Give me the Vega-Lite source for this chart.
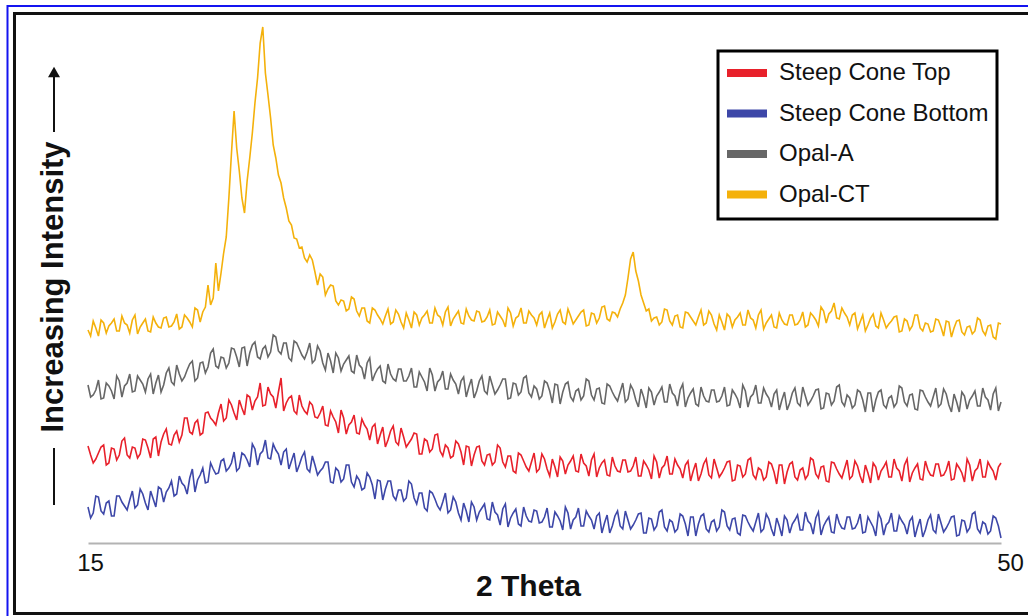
{
 "$schema": "https://vega.github.io/schema/vega-lite/v6.json",
 "width": 913, "height": 523,
 "autosize": "none",
 "padding": {"left": 88, "top": 20, "right": 27, "bottom": 73},
 "background": "white",
 "config": {"view": {"stroke": null}, "font": "Liberation Sans"},
 "layer": [
  {
   "data": {"values": [
{"t":15.0,"opalA":158,"top":97,"bottom":36,"opalCT":213},{"t":15.1,"opalA":146,"top":88,"bottom":25,"opalCT":207},
{"t":15.2,"opalA":148,"top":80,"bottom":30,"opalCT":222},{"t":15.3,"opalA":153,"top":84,"bottom":47,"opalCT":215},
{"t":15.4,"opalA":163,"top":90,"bottom":46,"opalCT":207},{"t":15.5,"opalA":144,"top":96,"bottom":32,"opalCT":223},
{"t":15.6,"opalA":145,"top":98,"bottom":29,"opalCT":220},{"t":15.7,"opalA":160,"top":78,"bottom":40,"opalCT":210},
{"t":15.8,"opalA":157,"top":80,"bottom":42,"opalCT":217},{"t":15.9,"opalA":152,"top":95,"bottom":27,"opalCT":220},
{"t":16.0,"opalA":144,"top":94,"bottom":27,"opalCT":224},{"t":16.1,"opalA":167,"top":83,"bottom":47,"opalCT":212},
{"t":16.2,"opalA":162,"top":88,"bottom":47,"opalCT":212},{"t":16.3,"opalA":146,"top":102,"bottom":41,"opalCT":227},
{"t":16.4,"opalA":157,"top":105,"bottom":37,"opalCT":220},{"t":16.5,"opalA":160,"top":88,"bottom":33,"opalCT":218},
{"t":16.6,"opalA":169,"top":85,"bottom":43,"opalCT":210},{"t":16.7,"opalA":151,"top":96,"bottom":52,"opalCT":223},
{"t":16.8,"opalA":152,"top":95,"bottom":35,"opalCT":228},{"t":16.9,"opalA":167,"top":85,"bottom":38,"opalCT":209},
{"t":17.0,"opalA":163,"top":89,"bottom":54,"opalCT":216},{"t":17.1,"opalA":159,"top":104,"bottom":49,"opalCT":220},
{"t":17.2,"opalA":151,"top":103,"bottom":40,"opalCT":224},{"t":17.3,"opalA":164,"top":95,"bottom":33,"opalCT":212},
{"t":17.4,"opalA":169,"top":85,"bottom":52,"opalCT":211},{"t":17.5,"opalA":149,"top":104,"bottom":44,"opalCT":226},
{"t":17.6,"opalA":160,"top":106,"bottom":36,"opalCT":220},{"t":17.7,"opalA":168,"top":87,"bottom":56,"opalCT":216},
{"t":17.8,"opalA":151,"top":101,"bottom":54,"opalCT":215},{"t":17.9,"opalA":158,"top":109,"bottom":41,"opalCT":225},
{"t":18.0,"opalA":170,"top":114,"bottom":51,"opalCT":226},{"t":18.1,"opalA":175,"top":99,"bottom":55,"opalCT":216},
{"t":18.2,"opalA":161,"top":98,"bottom":62,"opalCT":217},{"t":18.3,"opalA":158,"top":108,"bottom":47,"opalCT":221},
{"t":18.4,"opalA":178,"top":112,"bottom":49,"opalCT":229},{"t":18.5,"opalA":169,"top":101,"bottom":67,"opalCT":214},
{"t":18.6,"opalA":162,"top":108,"bottom":60,"opalCT":216},{"t":18.7,"opalA":166,"top":125,"bottom":57,"opalCT":228},
{"t":18.8,"opalA":173,"top":125,"bottom":49,"opalCT":225},{"t":18.9,"opalA":179,"top":111,"bottom":65,"opalCT":221},
{"t":19.0,"opalA":182,"top":109,"bottom":74,"opalCT":216},{"t":19.1,"opalA":162,"top":120,"bottom":51,"opalCT":235},
{"t":19.2,"opalA":165,"top":123,"bottom":63,"opalCT":233},{"t":19.3,"opalA":180,"top":108,"bottom":68,"opalCT":221},
{"t":19.4,"opalA":181,"top":110,"bottom":75,"opalCT":231},{"t":19.5,"opalA":170,"top":130,"bottom":60,"opalCT":236},
{"t":19.6,"opalA":176,"top":131,"bottom":61,"opalCT":258},{"t":19.7,"opalA":190,"top":125,"bottom":80,"opalCT":238},
{"t":19.8,"opalA":194,"top":122,"bottom":74,"opalCT":245},{"t":19.9,"opalA":177,"top":118,"bottom":69,"opalCT":280},
{"t":20.0,"opalA":175,"top":130,"bottom":70,"opalCT":252},{"t":20.1,"opalA":186,"top":139,"bottom":82,"opalCT":270},
{"t":20.2,"opalA":185,"top":122,"bottom":84,"opalCT":290},{"t":20.3,"opalA":175,"top":125,"bottom":72,"opalCT":306},
{"t":20.4,"opalA":180,"top":143,"bottom":75,"opalCT":345},{"t":20.5,"opalA":195,"top":138,"bottom":80,"opalCT":390},
{"t":20.6,"opalA":194,"top":130,"bottom":91,"opalCT":432},{"t":20.7,"opalA":186,"top":123,"bottom":72,"opalCT":395},
{"t":20.8,"opalA":176,"top":143,"bottom":75,"opalCT":372},{"t":20.9,"opalA":195,"top":135,"bottom":90,"opalCT":345},
{"t":21.0,"opalA":196,"top":128,"bottom":88,"opalCT":330},{"t":21.1,"opalA":177,"top":148,"bottom":83,"opalCT":362},
{"t":21.2,"opalA":190,"top":146,"bottom":76,"opalCT":385},{"t":21.3,"opalA":198,"top":133,"bottom":99,"opalCT":410},
{"t":21.4,"opalA":201,"top":142,"bottom":94,"opalCT":440},{"t":21.5,"opalA":186,"top":146,"bottom":78,"opalCT":465},
{"t":21.6,"opalA":184,"top":160,"bottom":89,"opalCT":500},{"t":21.7,"opalA":194,"top":137,"bottom":92,"opalCT":516},
{"t":21.8,"opalA":197,"top":138,"bottom":103,"opalCT":470},{"t":21.9,"opalA":186,"top":156,"bottom":85,"opalCT":448},
{"t":22.0,"opalA":191,"top":149,"bottom":84,"opalCT":425},{"t":22.1,"opalA":208,"top":146,"bottom":99,"opalCT":398},
{"t":22.2,"opalA":206,"top":135,"bottom":93,"opalCT":385},{"t":22.3,"opalA":192,"top":151,"bottom":89,"opalCT":368},
{"t":22.4,"opalA":189,"top":165,"bottom":78,"opalCT":360},{"t":22.5,"opalA":200,"top":132,"bottom":91,"opalCT":345},
{"t":22.6,"opalA":200,"top":140,"bottom":94,"opalCT":335},{"t":22.7,"opalA":185,"top":145,"bottom":74,"opalCT":322},
{"t":22.8,"opalA":182,"top":147,"bottom":82,"opalCT":318},{"t":22.9,"opalA":202,"top":132,"bottom":90,"opalCT":305},
{"t":23.0,"opalA":200,"top":129,"bottom":71,"opalCT":304},{"t":23.1,"opalA":194,"top":148,"bottom":78,"opalCT":295},
{"t":23.2,"opalA":188,"top":137,"bottom":86,"opalCT":296},{"t":23.3,"opalA":184,"top":132,"bottom":91,"opalCT":285},
{"t":23.4,"opalA":191,"top":129,"bottom":74,"opalCT":281},{"t":23.5,"opalA":200,"top":141,"bottom":71,"opalCT":288},
{"t":23.6,"opalA":180,"top":138,"bottom":87,"opalCT":283},{"t":23.7,"opalA":183,"top":126,"bottom":78,"opalCT":271},
{"t":23.8,"opalA":197,"top":125,"bottom":68,"opalCT":258},{"t":23.9,"opalA":192,"top":130,"bottom":72,"opalCT":269},
{"t":24.0,"opalA":180,"top":137,"bottom":75,"opalCT":266},{"t":24.1,"opalA":173,"top":118,"bottom":81,"opalCT":248},
{"t":24.2,"opalA":190,"top":117,"bottom":81,"opalCT":254},{"t":24.3,"opalA":182,"top":132,"bottom":61,"opalCT":258},
{"t":24.4,"opalA":170,"top":126,"bottom":60,"opalCT":257},{"t":24.5,"opalA":190,"top":121,"bottom":75,"opalCT":242},
{"t":24.6,"opalA":185,"top":110,"bottom":72,"opalCT":238},{"t":24.7,"opalA":172,"top":133,"bottom":61,"opalCT":243},
{"t":24.8,"opalA":179,"top":125,"bottom":64,"opalCT":242},{"t":24.9,"opalA":183,"top":109,"bottom":78,"opalCT":232},
{"t":25.0,"opalA":187,"top":118,"bottom":78,"opalCT":234},{"t":25.1,"opalA":172,"top":121,"bottom":61,"opalCT":246},
{"t":25.2,"opalA":170,"top":128,"bottom":56,"opalCT":244},{"t":25.3,"opalA":188,"top":110,"bottom":67,"opalCT":232},
{"t":25.4,"opalA":178,"top":109,"bottom":63,"opalCT":227},{"t":25.5,"opalA":175,"top":124,"bottom":53,"opalCT":235},
{"t":25.6,"opalA":164,"top":118,"bottom":55,"opalCT":235},{"t":25.7,"opalA":180,"top":114,"bottom":70,"opalCT":222},
{"t":25.8,"opalA":185,"top":103,"bottom":66,"opalCT":220},{"t":25.9,"opalA":162,"top":116,"bottom":58,"opalCT":235},
{"t":26.0,"opalA":169,"top":119,"bottom":44,"opalCT":233},{"t":26.1,"opalA":174,"top":99,"bottom":63,"opalCT":228},
{"t":26.2,"opalA":177,"top":108,"bottom":62,"opalCT":224},{"t":26.3,"opalA":162,"top":116,"bottom":43,"opalCT":219},
{"t":26.4,"opalA":160,"top":96,"bottom":54,"opalCT":227},{"t":26.5,"opalA":179,"top":103,"bottom":62,"opalCT":234},
{"t":26.6,"opalA":169,"top":112,"bottom":62,"opalCT":219},{"t":26.7,"opalA":164,"top":117,"bottom":47,"opalCT":221},
{"t":26.8,"opalA":162,"top":101,"bottom":43,"opalCT":233},{"t":26.9,"opalA":174,"top":98,"bottom":53,"opalCT":229},
{"t":27.0,"opalA":174,"top":115,"bottom":53,"opalCT":221},{"t":27.1,"opalA":162,"top":106,"bottom":42,"opalCT":215},
{"t":27.2,"opalA":162,"top":96,"bottom":45,"opalCT":230},{"t":27.3,"opalA":167,"top":100,"bottom":62,"opalCT":223},
{"t":27.4,"opalA":175,"top":104,"bottom":59,"opalCT":215},{"t":27.5,"opalA":156,"top":110,"bottom":45,"opalCT":231},
{"t":27.6,"opalA":156,"top":109,"bottom":39,"opalCT":228},{"t":27.7,"opalA":171,"top":89,"bottom":50,"opalCT":218},
{"t":27.8,"opalA":166,"top":89,"bottom":50,"opalCT":225},{"t":27.9,"opalA":161,"top":104,"bottom":35,"opalCT":228},
{"t":28.0,"opalA":152,"top":102,"bottom":32,"opalCT":232},{"t":28.1,"opalA":175,"top":91,"bottom":52,"opalCT":220},
{"t":28.2,"opalA":168,"top":94,"bottom":50,"opalCT":220},{"t":28.3,"opalA":152,"top":108,"bottom":44,"opalCT":235},
{"t":28.4,"opalA":161,"top":109,"bottom":37,"opalCT":228},{"t":28.5,"opalA":164,"top":92,"bottom":33,"opalCT":226},
{"t":28.6,"opalA":172,"top":87,"bottom":41,"opalCT":218},{"t":28.7,"opalA":154,"top":98,"bottom":50,"opalCT":231},
{"t":28.8,"opalA":154,"top":95,"bottom":30,"opalCT":236},{"t":28.9,"opalA":169,"top":85,"bottom":33,"opalCT":217},
{"t":29.0,"opalA":163,"top":87,"bottom":46,"opalCT":224},{"t":29.1,"opalA":159,"top":102,"bottom":41,"opalCT":228},
{"t":29.2,"opalA":149,"top":99,"bottom":30,"opalCT":232},{"t":29.3,"opalA":162,"top":91,"bottom":23,"opalCT":220},
{"t":29.4,"opalA":166,"top":78,"bottom":40,"opalCT":219},{"t":29.5,"opalA":146,"top":97,"bottom":32,"opalCT":234},
{"t":29.6,"opalA":156,"top":96,"bottom":21,"opalCT":227},{"t":29.7,"opalA":164,"top":77,"bottom":41,"opalCT":223},
{"t":29.8,"opalA":145,"top":88,"bottom":36,"opalCT":222},{"t":29.9,"opalA":152,"top":96,"bottom":23,"opalCT":232},
{"t":30.0,"opalA":162,"top":97,"bottom":31,"opalCT":231},{"t":30.1,"opalA":167,"top":82,"bottom":35,"opalCT":221},
{"t":30.2,"opalA":152,"top":78,"bottom":39,"opalCT":222},{"t":30.3,"opalA":149,"top":88,"bottom":24,"opalCT":226},
{"t":30.4,"opalA":167,"top":89,"bottom":23,"opalCT":233},{"t":30.5,"opalA":158,"top":78,"bottom":41,"opalCT":218},
{"t":30.6,"opalA":149,"top":81,"bottom":31,"opalCT":219},{"t":30.7,"opalA":153,"top":98,"bottom":28,"opalCT":231},
{"t":30.8,"opalA":158,"top":95,"bottom":18,"opalCT":227},{"t":30.9,"opalA":164,"top":81,"bottom":34,"opalCT":223},
{"t":31.0,"opalA":164,"top":76,"bottom":39,"opalCT":216},{"t":31.1,"opalA":144,"top":87,"bottom":16,"opalCT":235},
{"t":31.2,"opalA":145,"top":87,"bottom":25,"opalCT":230},{"t":31.3,"opalA":160,"top":72,"bottom":30,"opalCT":217},
{"t":31.4,"opalA":159,"top":70,"bottom":34,"opalCT":225},{"t":31.5,"opalA":148,"top":90,"bottom":19,"opalCT":227},
{"t":31.6,"opalA":151,"top":88,"bottom":17,"opalCT":235},{"t":31.7,"opalA":165,"top":82,"bottom":36,"opalCT":220},
{"t":31.8,"opalA":167,"top":76,"bottom":27,"opalCT":220},{"t":31.9,"opalA":150,"top":72,"bottom":22,"opalCT":232},
{"t":32.0,"opalA":146,"top":81,"bottom":21,"opalCT":228},{"t":32.1,"opalA":157,"top":90,"bottom":33,"opalCT":225},
{"t":32.2,"opalA":154,"top":71,"bottom":32,"opalCT":218},{"t":32.3,"opalA":144,"top":74,"bottom":20,"opalCT":228},
{"t":32.4,"opalA":147,"top":89,"bottom":21,"opalCT":231},{"t":32.5,"opalA":162,"top":84,"bottom":26,"opalCT":215},
{"t":32.6,"opalA":160,"top":74,"bottom":35,"opalCT":223},{"t":32.7,"opalA":152,"top":67,"bottom":16,"opalCT":230},
{"t":32.8,"opalA":140,"top":84,"bottom":16,"opalCT":215},{"t":32.9,"opalA":159,"top":76,"bottom":31,"opalCT":221},
{"t":33.0,"opalA":158,"top":66,"bottom":27,"opalCT":229},{"t":33.1,"opalA":139,"top":86,"bottom":22,"opalCT":233},
{"t":33.2,"opalA":151,"top":82,"bottom":13,"opalCT":221},{"t":33.3,"opalA":159,"top":69,"bottom":36,"opalCT":219},
{"t":33.4,"opalA":161,"top":78,"bottom":30,"opalCT":234},{"t":33.5,"opalA":146,"top":82,"bottom":14,"opalCT":227},
{"t":33.6,"opalA":142,"top":87,"bottom":23,"opalCT":219},{"t":33.7,"opalA":152,"top":72,"bottom":26,"opalCT":223},
{"t":33.8,"opalA":154,"top":71,"bottom":35,"opalCT":227},{"t":33.9,"opalA":143,"top":89,"bottom":17,"opalCT":231},
{"t":34.0,"opalA":147,"top":80,"bottom":17,"opalCT":233},{"t":34.1,"opalA":164,"top":77,"bottom":32,"opalCT":217},
{"t":34.2,"opalA":162,"top":67,"bottom":27,"opalCT":218},{"t":34.3,"opalA":148,"top":83,"bottom":23,"opalCT":230},
{"t":34.4,"opalA":143,"top":89,"bottom":14,"opalCT":229},{"t":34.5,"opalA":154,"top":66,"bottom":27,"opalCT":220},
{"t":34.6,"opalA":155,"top":75,"bottom":30,"opalCT":225},{"t":34.7,"opalA":140,"top":80,"bottom":10,"opalCT":236},
{"t":34.8,"opalA":139,"top":83,"bottom":20,"opalCT":237},{"t":34.9,"opalA":159,"top":68,"bottom":28,"opalCT":224},
{"t":35.0,"opalA":157,"top":67,"bottom":10,"opalCT":222},{"t":35.1,"opalA":151,"top":86,"bottom":17,"opalCT":231},
{"t":35.2,"opalA":146,"top":77,"bottom":27,"opalCT":230},{"t":35.3,"opalA":142,"top":72,"bottom":32,"opalCT":226},
{"t":35.4,"opalA":151,"top":71,"bottom":17,"opalCT":234},{"t":35.5,"opalA":160,"top":83,"bottom":14,"opalCT":240},
{"t":35.6,"opalA":141,"top":83,"bottom":32,"opalCT":248},{"t":35.7,"opalA":144,"top":71,"bottom":23,"opalCT":265},
{"t":35.8,"opalA":158,"top":72,"bottom":14,"opalCT":284},{"t":35.9,"opalA":153,"top":77,"bottom":18,"opalCT":291},
{"t":36.0,"opalA":143,"top":86,"bottom":23,"opalCT":272},{"t":36.1,"opalA":136,"top":67,"bottom":29,"opalCT":262},
{"t":36.2,"opalA":154,"top":67,"bottom":30,"opalCT":248},{"t":36.3,"opalA":146,"top":82,"bottom":10,"opalCT":240},
{"t":36.4,"opalA":135,"top":78,"bottom":10,"opalCT":232},{"t":36.5,"opalA":155,"top":73,"bottom":25,"opalCT":234},
{"t":36.6,"opalA":151,"top":64,"bottom":24,"opalCT":222},{"t":36.7,"opalA":138,"top":87,"bottom":13,"opalCT":225},
{"t":36.8,"opalA":147,"top":81,"bottom":17,"opalCT":226},{"t":36.9,"opalA":151,"top":65,"bottom":31,"opalCT":218},
{"t":37.0,"opalA":156,"top":75,"bottom":33,"opalCT":221},{"t":37.1,"opalA":141,"top":78,"bottom":16,"opalCT":234},
{"t":37.2,"opalA":141,"top":87,"bottom":12,"opalCT":233},{"t":37.3,"opalA":159,"top":69,"bottom":23,"opalCT":222},
{"t":37.4,"opalA":150,"top":69,"bottom":21,"opalCT":218},{"t":37.5,"opalA":147,"top":84,"bottom":11,"opalCT":227},
{"t":37.6,"opalA":137,"top":78,"bottom":14,"opalCT":228},{"t":37.7,"opalA":153,"top":74,"bottom":29,"opalCT":216},
{"t":37.8,"opalA":159,"top":65,"bottom":27,"opalCT":215},{"t":37.9,"opalA":136,"top":78,"bottom":19,"opalCT":231},
{"t":38.0,"opalA":145,"top":82,"bottom":7,"opalCT":230},{"t":38.1,"opalA":150,"top":62,"bottom":26,"opalCT":226},
{"t":38.2,"opalA":154,"top":72,"bottom":26,"opalCT":222},{"t":38.3,"opalA":139,"top":80,"bottom":7,"opalCT":218},
{"t":38.4,"opalA":137,"top":62,"bottom":19,"opalCT":226},{"t":38.5,"opalA":156,"top":69,"bottom":27,"opalCT":233},
{"t":38.6,"opalA":147,"top":79,"bottom":29,"opalCT":218},{"t":38.7,"opalA":142,"top":84,"bottom":14,"opalCT":220},
{"t":38.8,"opalA":141,"top":68,"bottom":11,"opalCT":232},{"t":38.9,"opalA":153,"top":65,"bottom":21,"opalCT":228},
{"t":39.0,"opalA":153,"top":84,"bottom":23,"opalCT":219},{"t":39.1,"opalA":141,"top":75,"bottom":12,"opalCT":213},
{"t":39.2,"opalA":142,"top":66,"bottom":16,"opalCT":228},{"t":39.3,"opalA":147,"top":70,"bottom":33,"opalCT":221},
{"t":39.4,"opalA":156,"top":75,"bottom":31,"opalCT":213},{"t":39.5,"opalA":137,"top":81,"bottom":17,"opalCT":229},
{"t":39.6,"opalA":138,"top":82,"bottom":13,"opalCT":226},{"t":39.7,"opalA":153,"top":62,"bottom":24,"opalCT":216},
{"t":39.8,"opalA":149,"top":63,"bottom":25,"opalCT":223},{"t":39.9,"opalA":144,"top":78,"bottom":10,"opalCT":226},
{"t":40.0,"opalA":135,"top":77,"bottom":8,"opalCT":230},{"t":40.1,"opalA":158,"top":66,"bottom":28,"opalCT":218},
{"t":40.2,"opalA":152,"top":69,"bottom":27,"opalCT":218},{"t":40.3,"opalA":136,"top":83,"bottom":21,"opalCT":233},
{"t":40.4,"opalA":146,"top":85,"bottom":16,"opalCT":225},{"t":40.5,"opalA":149,"top":68,"bottom":12,"opalCT":223},
{"t":40.6,"opalA":158,"top":64,"bottom":21,"opalCT":215},{"t":40.7,"opalA":140,"top":75,"bottom":30,"opalCT":228},
{"t":40.8,"opalA":140,"top":73,"bottom":11,"opalCT":233},{"t":40.9,"opalA":155,"top":63,"bottom":14,"opalCT":214},
{"t":41.0,"opalA":149,"top":66,"bottom":29,"opalCT":220},{"t":41.1,"opalA":145,"top":81,"bottom":24,"opalCT":224},
{"t":41.2,"opalA":136,"top":79,"bottom":14,"opalCT":228},{"t":41.3,"opalA":149,"top":71,"bottom":7,"opalCT":216},
{"t":41.4,"opalA":153,"top":59,"bottom":25,"opalCT":215},{"t":41.5,"opalA":133,"top":78,"bottom":17,"opalCT":230},
{"t":41.6,"opalA":143,"top":78,"bottom":7,"opalCT":223},{"t":41.7,"opalA":151,"top":59,"bottom":27,"opalCT":219},
{"t":41.8,"opalA":133,"top":71,"bottom":23,"opalCT":218},{"t":41.9,"opalA":140,"top":79,"bottom":10,"opalCT":228},
{"t":42.0,"opalA":150,"top":81,"bottom":19,"opalCT":228},{"t":42.1,"opalA":155,"top":66,"bottom":23,"opalCT":218},
{"t":42.2,"opalA":140,"top":63,"bottom":28,"opalCT":219},{"t":42.3,"opalA":137,"top":73,"bottom":13,"opalCT":223},
{"t":42.4,"opalA":156,"top":75,"bottom":13,"opalCT":231},{"t":42.5,"opalA":147,"top":64,"bottom":31,"opalCT":216},
{"t":42.6,"opalA":138,"top":68,"bottom":22,"opalCT":218},{"t":42.7,"opalA":142,"top":85,"bottom":19,"opalCT":230},
{"t":42.8,"opalA":147,"top":83,"bottom":9,"opalCT":227},{"t":42.9,"opalA":153,"top":69,"bottom":25,"opalCT":223},
{"t":43.0,"opalA":154,"top":65,"bottom":31,"opalCT":217},{"t":43.1,"opalA":134,"top":76,"bottom":8,"opalCT":236},
{"t":43.2,"opalA":135,"top":77,"bottom":17,"opalCT":232},{"t":43.3,"opalA":150,"top":62,"bottom":22,"opalCT":220},
{"t":43.4,"opalA":149,"top":61,"bottom":26,"opalCT":229},{"t":43.5,"opalA":138,"top":81,"bottom":11,"opalCT":232},
{"t":43.6,"opalA":142,"top":80,"bottom":10,"opalCT":240},{"t":43.7,"opalA":156,"top":74,"bottom":29,"opalCT":225},
{"t":43.8,"opalA":158,"top":69,"bottom":20,"opalCT":224},{"t":43.9,"opalA":141,"top":65,"bottom":15,"opalCT":235},
{"t":44.0,"opalA":137,"top":74,"bottom":14,"opalCT":230},{"t":44.1,"opalA":148,"top":83,"bottom":26,"opalCT":226},
{"t":44.2,"opalA":145,"top":64,"bottom":26,"opalCT":218},{"t":44.3,"opalA":135,"top":67,"bottom":14,"opalCT":228},
{"t":44.4,"opalA":138,"top":82,"bottom":15,"opalCT":230},{"t":44.5,"opalA":153,"top":77,"bottom":20,"opalCT":214},
{"t":44.6,"opalA":151,"top":67,"bottom":29,"opalCT":221},{"t":44.7,"opalA":143,"top":60,"bottom":10,"opalCT":228},
{"t":44.8,"opalA":131,"top":78,"bottom":11,"opalCT":212},{"t":44.9,"opalA":150,"top":70,"bottom":26,"opalCT":218},
{"t":45.0,"opalA":150,"top":60,"bottom":21,"opalCT":225},{"t":45.1,"opalA":131,"top":80,"bottom":16,"opalCT":229},
{"t":45.2,"opalA":143,"top":76,"bottom":7,"opalCT":217},{"t":45.3,"opalA":151,"top":63,"bottom":30,"opalCT":215},
{"t":45.4,"opalA":153,"top":72,"bottom":24,"opalCT":230},{"t":45.5,"opalA":138,"top":76,"bottom":8,"opalCT":223},
{"t":45.6,"opalA":135,"top":81,"bottom":18,"opalCT":215},{"t":45.7,"opalA":145,"top":66,"bottom":21,"opalCT":219},
{"t":45.8,"opalA":147,"top":66,"bottom":30,"opalCT":222},{"t":45.9,"opalA":136,"top":84,"bottom":12,"opalCT":226},
{"t":46.0,"opalA":140,"top":75,"bottom":12,"opalCT":227},{"t":46.1,"opalA":157,"top":72,"bottom":27,"opalCT":211},
{"t":46.2,"opalA":155,"top":62,"bottom":22,"opalCT":212},{"t":46.3,"opalA":141,"top":78,"bottom":18,"opalCT":224},
{"t":46.4,"opalA":137,"top":84,"bottom":9,"opalCT":222},{"t":46.5,"opalA":148,"top":61,"bottom":22,"opalCT":213},
{"t":46.6,"opalA":149,"top":70,"bottom":26,"opalCT":217},{"t":46.7,"opalA":134,"top":75,"bottom":6,"opalCT":228},
{"t":46.8,"opalA":133,"top":79,"bottom":16,"opalCT":228},{"t":46.9,"opalA":153,"top":64,"bottom":24,"opalCT":215},
{"t":47.0,"opalA":152,"top":63,"bottom":6,"opalCT":212},{"t":47.1,"opalA":146,"top":82,"bottom":13,"opalCT":220},
{"t":47.2,"opalA":141,"top":73,"bottom":23,"opalCT":219},{"t":47.3,"opalA":137,"top":68,"bottom":28,"opalCT":211},
{"t":47.4,"opalA":146,"top":67,"bottom":13,"opalCT":212},{"t":47.5,"opalA":155,"top":79,"bottom":10,"opalCT":224},
{"t":47.6,"opalA":136,"top":79,"bottom":29,"opalCT":223},{"t":47.7,"opalA":139,"top":67,"bottom":20,"opalCT":216},
{"t":47.8,"opalA":154,"top":68,"bottom":11,"opalCT":207},{"t":47.9,"opalA":149,"top":73,"bottom":15,"opalCT":222},
{"t":48.0,"opalA":138,"top":82,"bottom":20,"opalCT":221},{"t":48.1,"opalA":131,"top":63,"bottom":26,"opalCT":206},
{"t":48.2,"opalA":149,"top":64,"bottom":27,"opalCT":215},{"t":48.3,"opalA":141,"top":79,"bottom":7,"opalCT":222},
{"t":48.4,"opalA":131,"top":75,"bottom":8,"opalCT":223},{"t":48.5,"opalA":151,"top":70,"bottom":23,"opalCT":211},
{"t":48.6,"opalA":147,"top":61,"bottom":22,"opalCT":208},{"t":48.7,"opalA":134,"top":84,"bottom":11,"opalCT":216},
{"t":48.8,"opalA":143,"top":78,"bottom":15,"opalCT":217},{"t":48.9,"opalA":147,"top":62,"bottom":29,"opalCT":209},
{"t":49.0,"opalA":152,"top":72,"bottom":31,"opalCT":212},{"t":49.1,"opalA":137,"top":75,"bottom":14,"opalCT":225},
{"t":49.2,"opalA":137,"top":84,"bottom":10,"opalCT":223},{"t":49.3,"opalA":155,"top":66,"bottom":21,"opalCT":212},
{"t":49.4,"opalA":146,"top":66,"bottom":19,"opalCT":208},{"t":49.5,"opalA":143,"top":81,"bottom":9,"opalCT":217},
{"t":49.6,"opalA":133,"top":76,"bottom":12,"opalCT":218},{"t":49.7,"opalA":149,"top":72,"bottom":27,"opalCT":206},
{"t":49.8,"opalA":155,"top":63,"bottom":25,"opalCT":204},{"t":49.9,"opalA":132,"top":76,"bottom":17,"opalCT":220},
{"t":50.0,"opalA":141,"top":80,"bottom":5,"opalCT":219}
   ]},
   "transform": [
    {"fold": ["top", "bottom", "opalA", "opalCT"], "as": ["series", "intensity"]},
    {"filter": "isValid(datum.intensity)"}
   ],
   "mark": {"type": "line", "strokeWidth": 1.6},
   "encoding": {
    "x": {"field": "t", "type": "quantitative",
     "scale": {"domain": [15, 50], "nice": false, "zero": false},
     "axis": {"values": [15, 50], "grid": false, "ticks": false, "tickSize": 0,
      "domainColor": "#b3b3b3", "domainWidth": 2, "labelFlush": false,
      "labelFont": "Liberation Sans", "labelFontSize": 24, "labelColor": "#111111",
      "labelPadding": 8,
      "labelOffset": {"condition": {"test": "datum.value == 50", "value": 9}, "value": 2},
      "title": "2 Theta", "titleFont": "Liberation Sans", "titleFontSize": 30,
      "titleFontWeight": "bold", "titleColor": "#111111",
      "titleX": 440, "titleY": 52, "titleBaseline": "alphabetic", "titleAlign": "center"}},
    "y": {"field": "intensity", "type": "quantitative",
     "scale": {"domain": [0, 523], "nice": false, "zero": false},
     "axis": {"domain": false, "ticks": false, "labels": false, "grid": false,
      "title": "Increasing Intensity", "titleFont": "Liberation Sans", "titleFontSize": 31,
      "titleFontWeight": "bold", "titleColor": "#111111",
      "titleX": -35, "titleY": 266.5, "titleBaseline": "middle", "titleAlign": "center", "titleAngle": 270}},
    "color": {"field": "series", "type": "nominal",
     "scale": {"domain": ["top", "bottom", "opalA", "opalCT"],
               "range": ["#e8212b", "#3d47a8", "#676767", "#f4b10b"]},
     "legend": {"orient": "none", "legendX": 630, "legendY": 31, "title": null,
      "padding": 8, "strokeColor": "black",
      "symbolType": "M-2,0H2", "symbolSize": 400, "symbolStrokeWidth": 8,
      "symbolOffset": 7, "labelOffset": 18,
      "labelFont": "Liberation Sans", "labelFontSize": 24, "labelColor": "#111111",
      "labelLimit": 400, "rowPadding": 8.5,
      "labelExpr": "datum.label == 'top' ? 'Steep Cone Top' : datum.label == 'bottom' ? 'Steep Cone Bottom' : datum.label == 'opalA' ? 'Opal-A' : 'Opal-CT'",
      "encode": {"legend": {"update": {"strokeWidth": {"value": 3}}}}}}
   }
  },
  {
   "data": {"values": [{}]},
   "mark": {"type": "rect", "filled": false, "stroke": "#1414f0", "strokeWidth": 2, "clip": false},
   "encoding": {
    "x": {"datum": 11.914, "type": "quantitative", "scale": {"domain": [15, 50], "nice": false, "zero": false}},
    "x2": {"datum": 51.49},
    "y": {"datum": 537, "type": "quantitative", "scale": {"domain": [0, 523], "nice": false, "zero": false}},
    "y2": {"datum": -87}
   }
  },
  {
   "data": {"values": [{}]},
   "mark": {"type": "rect", "filled": false, "stroke": "#111111", "strokeWidth": 3, "clip": false},
   "encoding": {
    "x": {"datum": 12.182, "type": "quantitative", "scale": {"domain": [15, 50], "nice": false, "zero": false}},
    "x2": {"datum": 51.3},
    "y": {"datum": 529.5, "type": "quantitative", "scale": {"domain": [0, 523], "nice": false, "zero": false}},
    "y2": {"datum": -70.5}
   }
  },
  {
   "data": {"values": [{}]},
   "mark": {"type": "rule", "stroke": "#111111", "strokeWidth": 2, "clip": false},
   "encoding": {
    "x": {"datum": 13.697, "type": "quantitative", "scale": {"domain": [15, 50], "nice": false, "zero": false}},
    "y": {"datum": 38, "type": "quantitative", "scale": {"domain": [0, 523], "nice": false, "zero": false}},
    "y2": {"datum": 95}
   }
  },
  {
   "data": {"values": [{}]},
   "mark": {"type": "rule", "stroke": "#111111", "strokeWidth": 2, "clip": false},
   "encoding": {
    "x": {"datum": 13.697, "type": "quantitative", "scale": {"domain": [15, 50], "nice": false, "zero": false}},
    "y": {"datum": 411, "type": "quantitative", "scale": {"domain": [0, 523], "nice": false, "zero": false}},
    "y2": {"datum": 466}
   }
  },
  {
   "data": {"values": [{}]},
   "mark": {"type": "point", "shape": "triangle-up", "size": 144, "filled": true, "color": "#111111", "opacity": 1, "clip": false},
   "encoding": {
    "x": {"datum": 13.697, "type": "quantitative", "scale": {"domain": [15, 50], "nice": false, "zero": false}},
    "y": {"datum": 471, "type": "quantitative", "scale": {"domain": [0, 523], "nice": false, "zero": false}}
   }
  }
 ]
}
